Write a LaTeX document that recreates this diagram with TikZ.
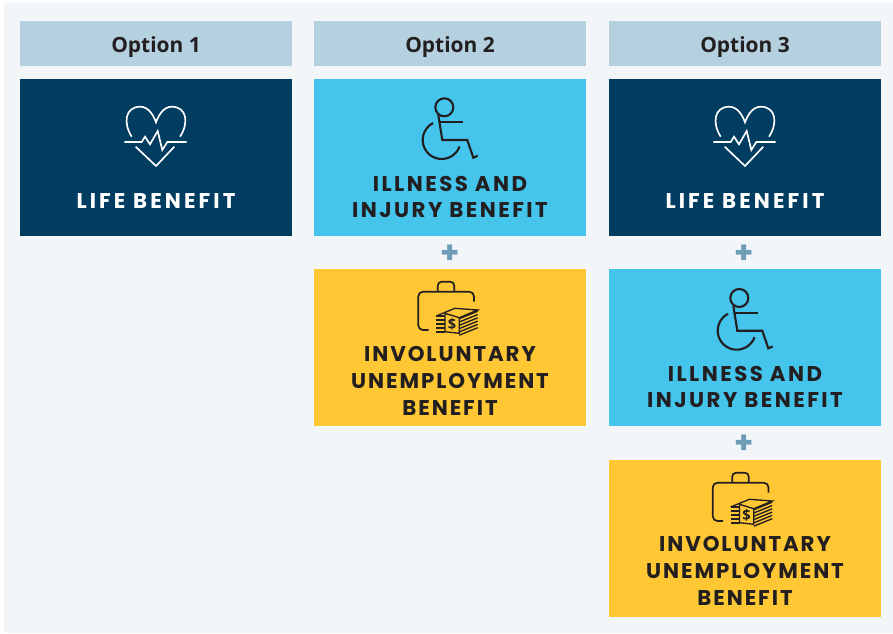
\documentclass[tikz,border=0pt]{standalone}
\usepackage{fontspec}
\setmainfont{Poppins}
\setsansfont{Open Sans}
\definecolor{panelbg}{HTML}{F2F6F9}
\definecolor{headblue}{HTML}{B5D0DF}
\definecolor{navy}{HTML}{003D60}
\definecolor{skyblue}{HTML}{45C4EC}
\definecolor{amber}{HTML}{FFC734}
\definecolor{inkdark}{HTML}{231F20}
\definecolor{plusblue}{HTML}{6F9DB8}
\tikzset{
	headbox/.style={fill=headblue,minimum width=204pt,inner sep=0pt,text height=23.25pt,text depth=10.5pt,text=inkdark,font=\sffamily\fontsize{15.7}{18}\selectfont\bfseries},
	lifebox/.style={fill=navy,minimum width=204pt,minimum height=117.75pt,inner sep=0pt},
	illbox/.style={fill=skyblue,minimum width=204pt,minimum height=117.75pt,inner sep=0pt},
	jobbox/.style={fill=amber,minimum width=204pt,minimum height=117.75pt,inner sep=0pt},
	boxtext/.style={align=center,inner sep=0pt,font=\fontsize{16}{20}\selectfont\bfseries\addfontfeatures{LetterSpace=#1}},
	plussign/.style={text=plusblue,inner sep=0pt,font=\fontsize{23}{23}\selectfont\bfseries},
	heart/.pic={
		\draw [white,line width=1.25pt] (-24.3,-0.3) .. controls (-33,-14) and (-31,-30) .. (-16,-30.3) .. controls (-8,-30.3) and (-3,-23) .. (0,-14.7) .. controls (3,-23) and (8,-30.3) .. (16,-30.3) .. controls (31,-30) and (33,-14) .. (24,-0.3);
		\draw [white,line width=1.25pt] (-31.7,5) -- (-14.3,5) -- (-11,-0.3) -- (-6,7.3) -- (1.7,-6) -- (6.3,13) -- (11.3,5) -- (30.7,5);
		\draw [white,line width=1.25pt] (-20.3,9.7) -- (0,29) -- (18.3,9.7);
	},
	wheelchair/.pic={
		\draw [inkdark,line width=1.6pt] (0,0) circle [radius=6.75pt];
		\draw [inkdark,line width=1.6pt] (-6,7.7) -- (-2,32.7) -- (23,32.7) -- (29,50.4) -- (33.4,48.4);
		\draw [inkdark,line width=1.6pt] (-4.3,14.7) -- (18.4,14.7);
		\draw [inkdark,line width=1.6pt] (-2.6,32.7)+(117:14.25pt) arc (117:340:14.25pt);
	},
	briefcase/.pic={
		\draw [inkdark,line width=1.3pt,rounded corners=3.5pt] (10.3,48.3) -- (0,48.3) -- (0,10) -- (55.7,10) -- (55.7,20);
		\draw [inkdark,line width=1.3pt,rounded corners=3pt] (19.4,10) -- (19.4,0) -- (36,0) -- (36,10);
		\fill [amber] (17,31) -- (60,25) -- (60,48) -- (17,53) -- cycle;
		\draw [inkdark,line width=1pt] (17.7,34.3) -- (36.7,26.6) -- (59.4,28.3) -- (41,36);
		\foreach \offs in {0,3.3,6.6,9.9,13.2,16.5}{
			\draw [inkdark,line width=1pt] (41,{37+\offs}) -- (59.4,{29.5+\offs});
		}
		\foreach \offs in {0,4,8,12,16}{
			\draw [inkdark,line width=1pt] (17.7,{34.3+\offs}) -- (26.7,{34.3+\offs});
		}
		\draw [inkdark,line width=1pt,fill=amber] (26.7,31.6) -- (41,36) -- (41,51.6) -- (26.7,50) -- cycle;
		\node [inkdark,inner sep=0pt,font=\sffamily\fontsize{11}{11}\selectfont\bfseries] (dollar) at (33.8,42.5) {\$};
	}
}
\begin{document}
\begin{tikzpicture}[x=0.75pt,y=-0.75pt]
	\useasboundingbox (0,0) rectangle (893,633);
	\fill [panelbg] (4,3) rectangle (893,633);
	
	\node [headbox] (HEAD_A) at (156,43.5) {Option 1};
	\node [headbox] (HEAD_B) at (450,43.5) {Option 2};
	\node [headbox] (HEAD_C) at (745,43.5) {Option 3};
	
	\node [lifebox] (LIFE_A) at (156,157.5) {};
	\node [illbox] (ILL_B) at (450,157.5) {};
	\node [jobbox] (JOB_B) at (450,347.5) {};
	\node [lifebox] (LIFE_C) at (745,157.5) {};
	\node [illbox] (ILL_C) at (745,347.5) {};
	\node [jobbox] (JOB_C) at (745,538.5) {};
	
	\node [plussign] (PLUS_B) at (450,254) {+};
	\node [plussign] (PLUS_C1) at (744,254) {+};
	\node [plussign] (PLUS_C2) at (744,444) {+};
	
	\pic at (156,137) {heart};
	\pic at (745,137) {heart};
	\pic at (444.3,107.3) {wheelchair};
	\pic at (739.3,298) {wheelchair};
	\pic at (418.3,281.7) {briefcase};
	\pic at (712.8,472.7) {briefcase};
	
	\node [boxtext=14.5,text=white] (LIFE_A_TXT) at (156,201) {LIFE BENEFIT};
	\node [boxtext=14.5,text=white] (LIFE_C_TXT) at (745,201) {LIFE BENEFIT};
	\node [boxtext=11.5,text=inkdark] (ILL_B_TXT) at (450,197) {ILLNESS AND\\INJURY BENEFIT};
	\node [boxtext=11.5,text=inkdark] (ILL_C_TXT) at (745,387) {ILLNESS AND\\INJURY BENEFIT};
	\node [boxtext=9,text=inkdark] (JOB_B_TXT) at (450,381) {INVOLUNTARY\\UNEMPLOYMENT\\BENEFIT};
	\node [boxtext=9,text=inkdark] (JOB_C_TXT) at (745,571) {INVOLUNTARY\\UNEMPLOYMENT\\BENEFIT};
\end{tikzpicture}
\end{document}
